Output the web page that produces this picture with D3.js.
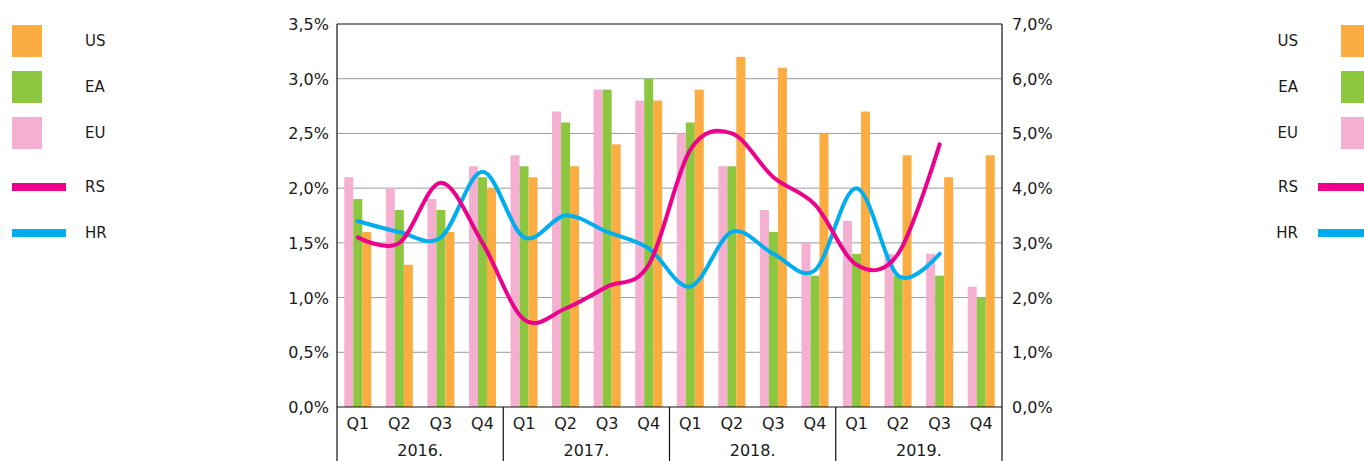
<!DOCTYPE html>
<html>
<head>
<meta charset="utf-8">
<script src="https://cdn.jsdelivr.net/npm/d3@7"></script>
<style>
	body { margin: 0; background: #fff; }
	svg text { font-family: "DejaVu Sans", sans-serif; fill: #1a1a1a; }
</style>
</head>
<body>
<div class="content"></div>
<script>
(function() {
	// quarters and years on the category axis
	var quarters = ["Q1", "Q2", "Q3", "Q4"];
	var years = ["2016.", "2017.", "2018.", "2019."];

	// bars, left axis (%)
	var US = [1.6, 1.3, 1.6, 2.0, 2.1, 2.2, 2.4, 2.8, 2.9, 3.2, 3.1, 2.5, 2.7, 2.3, 2.1, 2.3];
	var EA = [1.9, 1.8, 1.8, 2.1, 2.2, 2.6, 2.9, 3.0, 2.6, 2.2, 1.6, 1.2, 1.4, 1.2, 1.2, 1.0];
	var EU = [2.1, 2.0, 1.9, 2.2, 2.3, 2.7, 2.9, 2.8, 2.5, 2.2, 1.8, 1.5, 1.7, 1.4, 1.4, 1.1];

	// lines, right axis (%)
	var RS = [3.1, 3.0, 4.1, 3.0, 1.6, 1.8, 2.2, 2.6, 4.7, 5.0, 4.2, 3.7, 2.6, 2.8, 4.8, null];
	var HR = [3.4, 3.2, 3.1, 4.3, 3.1, 3.5, 3.2, 2.9, 2.2, 3.2, 2.8, 2.5, 4.0, 2.4, 2.8, null];

	var leftTicks = [0, 0.5, 1, 1.5, 2, 2.5, 3, 3.5];
	var rightTicks = [0, 1, 2, 3, 4, 5, 6, 7];

	var colors = { US: "#fbad42", EA: "#8dc63f", EU: "#f5afd0", RS: "#ec008c", HR: "#00aeef" };

	var width = 1364, height = 461;
	var left = 337, right = 1002, top = 24, bottom = 407;

	var svg = d3.select(".content")
		.append("svg")
		.attr("width", width)
		.attr("height", height);

	var cats = [];
	years.forEach(function(y) {
		quarters.forEach(function(q) { cats.push(y + q); });
	});

	var x0 = d3.scaleBand().domain(cats).range([left, right]).padding(0);
	var bw = x0.bandwidth();
	var x1 = d3.scaleBand().domain(["EU", "EA", "US"])
		.range([bw / 2 - 13.5, bw / 2 + 13.5]).padding(0);
	var xYear = d3.scaleBand().domain(years).range([left, right]).padding(0);

	var yL = d3.scaleLinear().domain([0, 3.5]).range([bottom, top]);
	var yR = d3.scaleLinear().domain([0, 7]).range([bottom, top]);

	var fmt = function(d) { return d.toFixed(1).replace(".", ",") + "%"; };

	// gridlines
	svg.append("g").selectAll("line")
		.data(leftTicks.filter(function(d) { return d > 0 && d < 3.5; }))
		.enter().append("line")
		.attr("x1", left).attr("x2", right)
		.attr("y1", function(d) { return yL(d); })
		.attr("y2", function(d) { return yL(d); })
		.attr("stroke", "#9a9a9a")
		.attr("stroke-width", 1);

	// bars
	var series = [["EU", EU], ["EA", EA], ["US", US]];
	series.forEach(function(s) {
		svg.append("g").selectAll("rect")
			.data(s[1])
			.enter().append("rect")
			.attr("x", function(d, i) { return x0(cats[i]) + x1(s[0]); })
			.attr("width", x1.bandwidth())
			.attr("y", function(d) { return yL(d); })
			.attr("height", function(d) { return bottom - yL(d); })
			.attr("fill", colors[s[0]]);
	});

	// lines
	var line = d3.line()
		.defined(function(d) { return d != null; })
		.x(function(d, i) { return x0(cats[i]) + bw / 2; })
		.y(function(d) { return yR(d); })
		.curve(d3.curveCardinal.tension(0));

	[["HR", HR], ["RS", RS]].forEach(function(s) {
		svg.append("path")
			.datum(s[1])
			.attr("d", line)
			.attr("fill", "none")
			.attr("stroke", colors[s[0]])
			.attr("stroke-width", 4)
			.attr("stroke-linecap", "round");
	});

	// frame
	var frame = svg.append("g").attr("stroke", "#111").attr("stroke-width", 1.2);
	frame.append("line").attr("x1", left).attr("x2", right).attr("y1", top).attr("y2", top);
	frame.append("line").attr("x1", left).attr("x2", right).attr("y1", bottom).attr("y2", bottom);
	// year separators, down to the bottom edge
	frame.selectAll(".sep")
		.data(years.concat(["end"]))
		.enter().append("line")
		.attr("x1", function(d, i) { return i < years.length ? xYear(d) : right; })
		.attr("x2", function(d, i) { return i < years.length ? xYear(d) : right; })
		.attr("y1", function(d, i) { return (i == 0 || i == years.length) ? top : bottom; })
		.attr("y2", height);

	// left axis labels
	svg.append("g").selectAll("text")
		.data(leftTicks)
		.enter().append("text")
		.attr("x", left - 8)
		.attr("y", function(d) { return yL(d) + 6; })
		.attr("text-anchor", "end")
		.style("font-size", "16px")
		.text(fmt);

	// right axis labels
	svg.append("g").selectAll("text")
		.data(rightTicks)
		.enter().append("text")
		.attr("x", right + 10)
		.attr("y", function(d) { return yR(d) + 6; })
		.style("font-size", "16px")
		.text(fmt);

	// quarter labels
	svg.append("g").selectAll("text")
		.data(cats)
		.enter().append("text")
		.attr("x", function(d) { return x0(d) + bw / 2; })
		.attr("y", 429)
		.attr("text-anchor", "middle")
		.style("font-size", "16px")
		.text(function(d) { return d.slice(-2); });

	// year labels
	svg.append("g").selectAll("text")
		.data(years)
		.enter().append("text")
		.attr("x", function(d) { return xYear(d) + xYear.bandwidth() / 2; })
		.attr("y", 456)
		.attr("text-anchor", "middle")
		.style("font-size", "16px")
		.text(function(d) { return d; });

	// legends, one on each side
	var legendItems = [
		{ key: "US", type: "box", y: 41 },
		{ key: "EA", type: "box", y: 87 },
		{ key: "EU", type: "box", y: 133 },
		{ key: "RS", type: "line", y: 187 },
		{ key: "HR", type: "line", y: 233 }
	];

	function drawLegend(markX, lineX, textX, anchor) {
		var g = svg.append("g");
		legendItems.forEach(function(d) {
			if (d.type == "box") {
				g.append("rect")
					.attr("x", markX).attr("y", d.y - 16)
					.attr("width", 30).attr("height", 32)
					.attr("fill", colors[d.key]);
			} else {
				g.append("rect")
					.attr("x", lineX).attr("y", d.y - 4)
					.attr("width", 54).attr("height", 8)
					.attr("fill", colors[d.key]);
			}
			g.append("text")
				.attr("x", textX)
				.attr("y", d.y + 5)
				.attr("text-anchor", anchor)
				.style("font-size", "15px")
				.text(d.key);
		});
	}

	drawLegend(12, 12, 85, "start");
	drawLegend(1341, 1318, 1298, "end");
}());
</script>
</body>
</html>
